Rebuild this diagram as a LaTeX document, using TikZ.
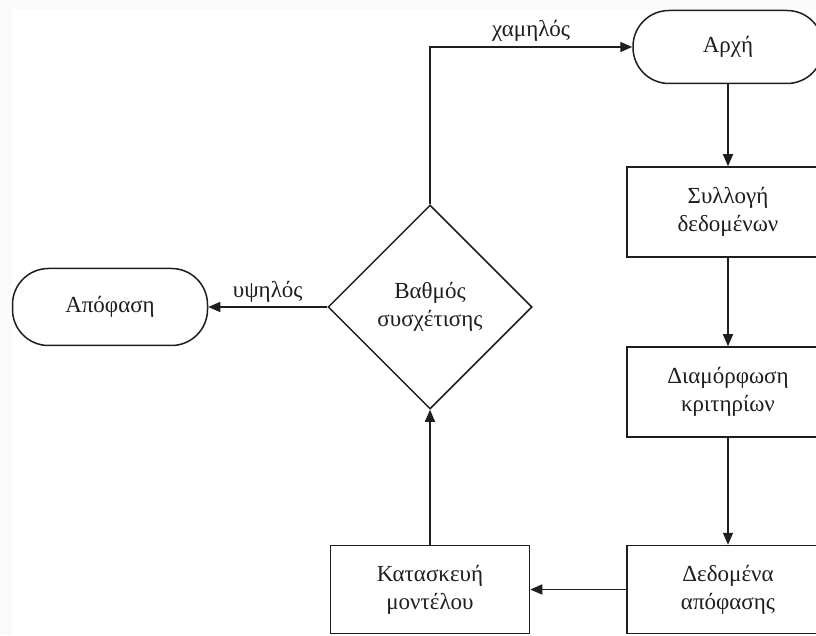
\documentclass[tikz,border=0pt]{standalone}
\usepackage{fontspec}
\setmainfont{Liberation Serif}
\usetikzlibrary{shapes.geometric,arrows.meta}
\definecolor{ink}{HTML}{1E1E1E}
\definecolor{edgeband}{HTML}{FAFAFA}
\tikzset{
  base/.style={draw=ink, line width=1.5pt, text=ink, font=\fontsize{23}{28}\selectfont, align=center, inner sep=0pt},
  terminal/.style={base, rectangle, rounded corners=36pt},
  stepbox/.style={base, rectangle, minimum width=202pt, minimum height=88pt},
  choice/.style={base, diamond, aspect=1, minimum width=204pt, minimum height=204pt},
  flow/.style={draw=ink, line width=1.5pt, -{Triangle[length=12pt,width=10pt]}},
  lbl/.style={text=ink, font=\fontsize{23}{26}\selectfont}
}
\begin{document}
\begin{tikzpicture}[x=1pt,y=1pt]
  \useasboundingbox (0,0) rectangle (816,635);
  \clip (0,0) rectangle (816,635);
  % page background with faint margin band
  \fill[edgeband] (0,0) rectangle (816,635);
  \fill[white] (12,0) rectangle (816,626);

  % flowchart nodes
  \node[terminal, minimum width=190pt, minimum height=73pt] (start) at (728,588) {Αρχή};
  \node[stepbox, minimum height=90pt] (collect) at (728,423) {Συλλογή\\δεδομένων};
  \node[stepbox, minimum height=90pt] (criteria) at (728,243) {Διαμόρφωση\\κριτηρίων};
  \node[stepbox] (ddata) at (728,45.5) {Δεδομένα\\απόφασης};
  \node[stepbox, minimum width=199pt] (build) at (430,45.5) {Κατασκευή\\μοντέλου};
  \node[choice] (grade) at (430,328) {Βαθμός\\συσχέτισης};
  \node[terminal, minimum width=195pt, minimum height=77pt] (decision) at (110,328) {Απόφαση};

  % connectors
  \draw[flow] (start.south) -- (collect.north);
  \draw[flow] (collect.south) -- (criteria.north);
  \draw[flow] (criteria.south) -- (ddata.north);
  \draw[flow] (ddata.west) -- (build.east);
  \draw[flow] (build.north) -- (grade.south);
  \draw[flow] (grade.west) -- node[lbl, above=1pt] {υψηλός} (decision.east);
  \draw[flow] (grade.north) |- node[lbl, pos=0.75, above=1pt] {χαμηλός} (start.west);
\end{tikzpicture}
\end{document}
